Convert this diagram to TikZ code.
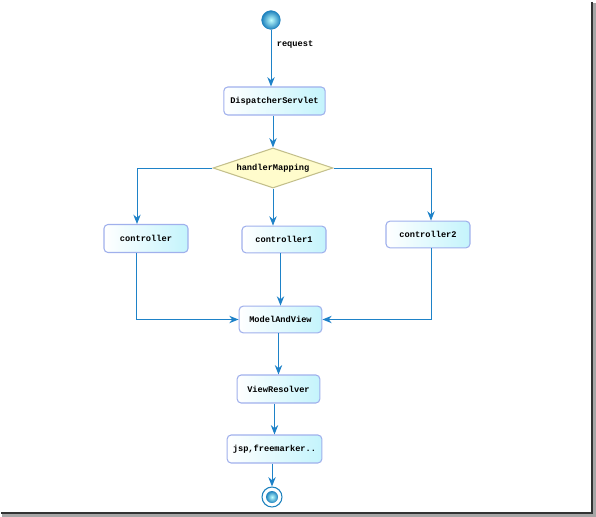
\documentclass[tikz,border=0pt]{standalone}
\usepackage{fontspec}
\setmonofont{Liberation Mono}
\usepackage{tikz}
\usetikzlibrary{arrows.meta,shapes.geometric,calc}
\definecolor{lineblue}{RGB}{30,130,200}
\definecolor{boxline}{RGB}{160,176,236}
\definecolor{boxcyan}{RGB}{196,244,252}
\definecolor{diafill}{RGB}{255,252,204}
\definecolor{dialine}{RGB}{196,192,140}
\definecolor{ballblue}{RGB}{30,130,190}

\begin{document}
\begin{tikzpicture}[x=0.75pt,y=-0.75pt,
  every node/.style={font=\ttfamily\bfseries\fontsize{6.5}{8}\selectfont},
  bnode/.style={rectangle,rounded corners=3pt,draw=boxline,thick,left color=white,right color=boxcyan,
    minimum width=63pt,minimum height=21pt,inner sep=1pt},
  dnode/.style={diamond,draw=dialine,thick,fill=diafill,minimum width=90pt,minimum height=30pt,inner sep=0pt,aspect=3},
  snode/.style={circle,draw=ballblue,inner color=cyan!25!white,outer color=ballblue,minimum size=14pt,inner sep=0pt},
  tnode/.style={draw=none,rectangle,anchor=west,inner sep=1pt},
  conn/.style={draw=lineblue,line width=0.75pt,-{Stealth[length=7pt,width=5.5pt]}}]

  \useasboundingbox (0,0) rectangle (596,517);

  % frame shadow
  \fill[gray!70] (593,3) rectangle (596,517);
  \fill[gray!70] (2,514) rectangle (596,517);
  \draw[black!80,line width=1pt] (592,2) -- (592,513) -- (1,513);

  \node (start) [snode] at (271,20) {};
  \node (disp) [bnode,minimum width=76pt] at (274.5,101) {DispatcherServlet};
  \node (hm) [dnode] at (273,168) {handlerMapping};
  \node (ctrl) [bnode] at (146,238.5) {controller};
  \node (ctrl1) [bnode,minimum height=20pt] at (284,239.5) {controller1};
  \node (ctrl2) [bnode,minimum height=20pt] at (428,234.5) {controller2};
  \node (mav) [bnode,minimum width=62pt,minimum height=20pt] at (280.5,319.5) {ModelAndView};
  \node (vr) [bnode,minimum width=62pt] at (278.5,389) {ViewResolver};
  \node (jsp) [bnode,minimum width=71pt] at (274.5,449) {jsp,freemarker..};
  \node (end) [circle,draw=ballblue,fill=white,line width=0.8pt,minimum size=15pt,inner sep=0pt] at (272,497) {};
  \node (endin) [snode,minimum size=9pt,draw=none] at (end) {};

  \draw [conn] (start) -- (start |- disp.north) node [tnode,midway,xshift=3pt,yshift=10pt] {request};
  \draw [conn] (hm |- disp.south) -- (hm.north);
  \draw [conn] (hm.west) -| ($(ctrl.north)+(-9,0)$);
  \draw [conn] (hm.south) -- (hm.south |- ctrl1.north);
  \draw [conn] (hm.east) -| ($(ctrl2.north)+(3,0)$);
  \draw [conn] ($(ctrl.south)+(-10,0)$) |- (mav.west);
  \draw [conn] (mav |- ctrl1.south) -- (mav.north);
  \draw [conn] ($(ctrl2.south)+(3,0)$) |- (mav.east);
  \draw [conn] (vr |- mav.south) -- (vr.north);
  \draw [conn] (jsp |- vr.south) -- (jsp.north);
  \draw [conn] (end |- jsp.south) -- (end.north);
\end{tikzpicture}
\end{document}
